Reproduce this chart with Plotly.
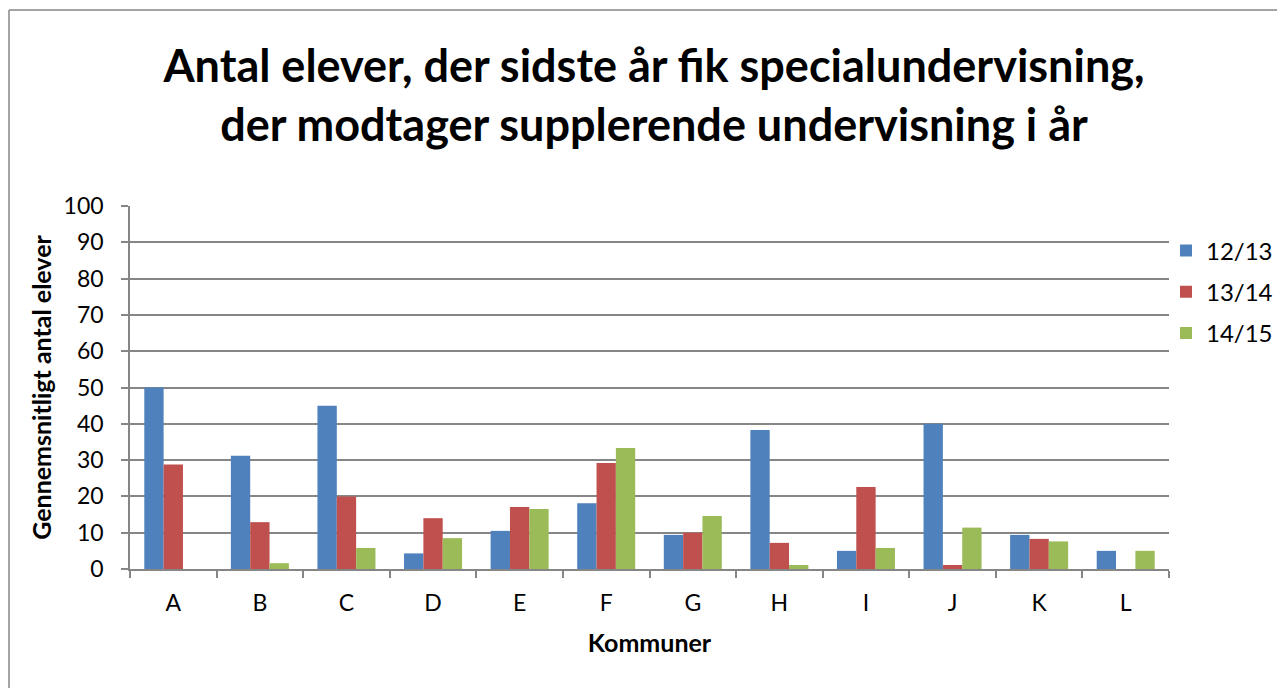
import plotly.graph_objects as go

categories = ["A", "B", "C", "D", "E", "F", "G", "H", "I", "J", "K", "L"]
s1213 = [50.0, 31.2, 45.0, 4.3, 10.5, 18.1, 9.4, 38.3, 5.0, 40.0, 9.4, 5.0]
s1314 = [28.8, 12.9, 20.0, 14.0, 17.1, 29.2, 10.0, 7.2, 22.6, 1.1, 8.3, 0]
s1415 = [0, 1.6, 5.8, 8.5, 16.5, 33.3, 14.6, 1.1, 5.8, 11.4, 7.6, 5.0]
series_names = ["12/13", "13/14", "14/15"]
colors = ["#4F81BD", "#C0504D", "#9BBB59"]
yticks = [0, 10, 20, 30, 40, 50, 60, 70, 80, 90, 100]

OFF = 8  # page body margin
W, H = 1285 - OFF, 688 - OFF
# desired page-pixel positions of plot area
L, R, T, B = 130, 1169, 206, 569
Lf, Rf, Tf, Bf = L - OFF, R - OFF, T - OFF, B - OFF
FONT = "Lato"
GRID = "#868686"

fig = go.Figure()
for name, vals, col in zip(series_names, [s1213, s1314, s1415], colors):
    fig.add_trace(go.Bar(x=categories, y=vals, name=name, marker_color=col,
                         marker_line_width=0, legendgroup=name))

def px_x(p):
    return (p - L) / (R - L)

def px_y(p):
    return (B - p) / (B - T)

fig.update_layout(
    width=W, height=H,
    margin=dict(l=Lf, r=W - Rf, t=Tf, b=H - Bf, pad=0, autoexpand=False),
    paper_bgcolor="white", plot_bgcolor="white",
    font=dict(family=FONT, color="black"),
    barmode="group", bargap=0.33, bargroupgap=0,
    title=dict(text="<b>Antal elever, der sidste år fik specialundervisning,<br>der modtager supplerende undervisning i år</b>",
               x=px_x(654), xref="paper", y=1 - (82 - OFF) / H, yref="container",
               xanchor="center", yanchor="middle",
               font=dict(family=FONT, size=45, color="black")),
    legend=dict(x=px_x(1166), y=px_y(292), xanchor="left", yanchor="middle",
                font=dict(family=FONT, size=24), tracegroupgap=7,
                bgcolor="rgba(0,0,0,0)"),
    showlegend=True,
    shapes=[
        dict(type="line", xref="paper", yref="paper", x0=px_x(9), x1=px_x(9),
             y0=px_y(10), y1=px_y(700), line=dict(color=GRID, width=1.5)),
        dict(type="line", xref="paper", yref="paper", x0=px_x(9), x1=px_x(1290),
             y0=px_y(10), y1=px_y(10), line=dict(color=GRID, width=1.5)),
    ],
)

fig.update_yaxes(range=[0, 100], tickvals=yticks, showgrid=True, gridcolor=GRID, gridwidth=1.5,
                 showline=True, linecolor=GRID, linewidth=1.5, ticks="outside", ticklen=7,
                 tickcolor=GRID, tickwidth=1.5, tickfont=dict(family=FONT, size=23),
                 ticklabelstandoff=13, zeroline=False,
                 title=dict(text="<b>Gennemsnitligt antal elever</b>", standoff=5,
                            font=dict(family=FONT, size=25)))
fig.update_xaxes(showline=True, linecolor=GRID, linewidth=1.5, ticks="outside", ticklen=7,
                 tickcolor=GRID, tickwidth=1.5, tickson="boundaries",
                 tickfont=dict(family=FONT, size=23), ticklabelstandoff=13,
                 title=dict(text="<b>Kommuner</b>", standoff=19,
                            font=dict(family=FONT, size=25)))

fig.write_html("out.html")
